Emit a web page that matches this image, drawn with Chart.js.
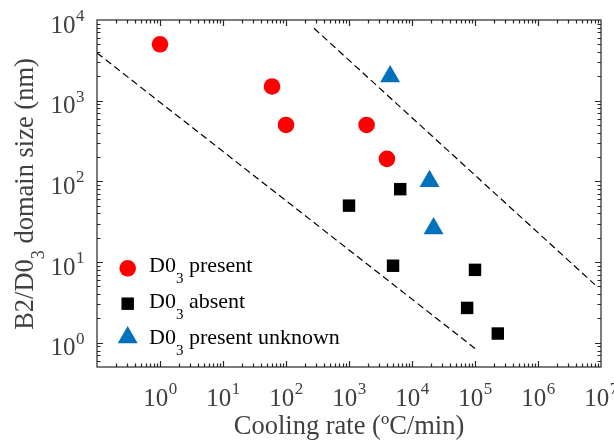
<!DOCTYPE html>
<html>
<head>
<meta charset="utf-8">
<title>B2/D03 domain size vs cooling rate</title>
<script src="https://cdn.jsdelivr.net/npm/chart.js@4.4.1/dist/chart.umd.min.js"></script>
<style>
  html, body { margin: 0; padding: 0; background: #fff; }
  #wrap { width: 614px; height: 443px; position: relative; }
</style>
</head>
<body>
<div id="wrap"><canvas id="myChart"></canvas></div>
<script>
// D0_3 present
const presentX = [1, 60, 100, 1900, 4000];
const presentY = [5000, 1500, 500, 500, 190];
// D0_3 absent
const absentX = [1000, 6500, 5000, 100000, 75000, 230000];
const absentY = [50, 80, 9, 8, 2.7, 1.3];
// D0_3 present unknown
const unknownX = [4500, 19000, 22000];
const unknownY = [2000, 100, 26];
// dashed guide lines (end points)
const lowerLineX = [0.1, 100000];
const lowerLineY = [3900, 0.85];
const upperLineX = [278, 8000000];
const upperLineY = [7900, 5.25];

// axis limits and decade labels
const xRange = [0.1, 1e7];
const yRange = [0.5, 1e4];
const xTickExps = [0, 1, 2, 3, 4, 5, 6, 7];
const yTickExps = [0, 1, 2, 3, 4];

const legendLabels = ['present', 'absent', 'present unknown'];

const serif = '"Liberation Serif", "Times New Roman", serif';
const red = '#ff0000';
const blue = '#0072bd';
const black = '#000000';
const axisColor = '#262626';
const labelColor = '#404040';

function toPoints(xs, ys) {
    return xs.map((x, i) => ({ x: x, y: ys[i] }));
}

// 1..9 x 10^k inside the range, k = decade
function logTicks(range) {
    const out = [];
    const k0 = Math.floor(Math.log10(range[0]));
    const k1 = Math.ceil(Math.log10(range[1]));
    for (let k = k0; k <= k1; k++) {
        for (let j = 1; j <= 9; j++) {
            const v = j * Math.pow(10, k);
            if (v > range[0] * 1.0001 && v < range[1] * 0.9999) out.push({ v: v, major: j === 1 });
        }
    }
    return out;
}

// "10" with a raised exponent
function powWidth(ctx, exp) {
    ctx.font = '25px ' + serif;
    const w1 = ctx.measureText('10').width;
    ctx.font = '17px ' + serif;
    const w2 = ctx.measureText(String(exp)).width;
    return [w1, w2];
}
function drawPow(ctx, left, baseline, exp) {
    const w = powWidth(ctx, exp);
    ctx.font = '25px ' + serif;
    ctx.fillText('10', left, baseline);
    ctx.font = '17px ' + serif;
    ctx.fillText(String(exp), left + w[0] + 0.5, baseline - 11.5);
}

// text pieces: [string, isSubscript]
function drawRich(ctx, parts, x, y, size, subSize, subDrop, align) {
    let total = 0;
    parts.forEach(p => {
        ctx.font = (p[1] ? subSize : size) + 'px ' + serif;
        total += ctx.measureText(p[0]).width;
    });
    let cx = align === 'center' ? x - total / 2 : x;
    parts.forEach(p => {
        ctx.font = (p[1] ? subSize : size) + 'px ' + serif;
        ctx.fillText(p[0], cx, p[1] ? y + subDrop : y);
        cx += ctx.measureText(p[0]).width;
    });
}

function drawMarker(ctx, style, x, y, r, color) {
    ctx.fillStyle = color;
    ctx.beginPath();
    if (style === 'circle') {
        ctx.arc(x, y, r, 0, Math.PI * 2);
    } else if (style === 'rect') {
        const s = r * Math.SQRT1_2;
        ctx.rect(x - s, y - s, 2 * s, 2 * s);
    } else {
        const hw = r * Math.sin(Math.PI / 3);
        ctx.moveTo(x, y - r);
        ctx.lineTo(x + hw, y + r / 2);
        ctx.lineTo(x - hw, y + r / 2);
        ctx.closePath();
    }
    ctx.fill();
}

// box, inward ticks, labels, titles and legend
const axesPlugin = {
    id: 'boxAxes',
    afterDraw(chart) {
        const ctx = chart.ctx;
        const xs = chart.scales.x;
        const ys = chart.scales.y;
        const a = chart.chartArea;
        ctx.save();

        ctx.strokeStyle = axisColor;
        ctx.lineWidth = 1.2;
        ctx.strokeRect(a.left, a.top, a.right - a.left, a.bottom - a.top);

        ctx.beginPath();
        logTicks(xRange).forEach(t => {
            const px = Math.round(xs.getPixelForValue(t.v)) + 0.5;
            const len = t.major ? 6 : 3.5;
            ctx.moveTo(px, a.bottom); ctx.lineTo(px, a.bottom - len);
            ctx.moveTo(px, a.top); ctx.lineTo(px, a.top + len);
        });
        logTicks(yRange).forEach(t => {
            const py = Math.round(ys.getPixelForValue(t.v)) + 0.5;
            const len = t.major ? 6 : 3.5;
            ctx.moveTo(a.left, py); ctx.lineTo(a.left + len, py);
            ctx.moveTo(a.right, py); ctx.lineTo(a.right - len, py);
        });
        ctx.stroke();

        // decade labels
        ctx.fillStyle = labelColor;
        ctx.textAlign = 'left';
        ctx.textBaseline = 'alphabetic';
        xTickExps.forEach(e => {
            const px = xs.getPixelForValue(Math.pow(10, e));
            const w = powWidth(ctx, e);
            drawPow(ctx, px - (w[0] + w[1]) / 2, a.bottom + 38.5, e);
        });
        yTickExps.forEach(e => {
            const py = ys.getPixelForValue(Math.pow(10, e));
            const w = powWidth(ctx, e);
            drawPow(ctx, a.left - 13 - (w[0] + w[1]), py + 12.5, e);
        });

        // axis titles
        drawRich(ctx, [['Cooling rate (ºC/min)', false]], (a.left + a.right) / 2, 434, 26.5, 18, 0, 'center');
        ctx.save();
        ctx.translate(33, 194);
        ctx.rotate(-Math.PI / 2);
        drawRich(ctx, [['B2/D0', false], ['3', true], [' domain size (nm)', false]], 0, 0, 26.5, 18, 10.5, 'center');
        ctx.restore();

        // legend
        const rows = [
            { style: 'circle', r: 8.3, color: red, my: 268.3, base: 271.7 },
            { style: 'rect', r: 8.8, color: black, my: 303.7, base: 308 },
            { style: 'triangle', r: 11.5, color: blue, my: 337.5, base: 344.3 }
        ];
        rows.forEach((row, i) => {
            drawMarker(ctx, row.style, 127.7, row.my, row.r, row.color);
            ctx.fillStyle = black;
            drawRich(ctx, [['D0', false], ['3', true], [' ' + legendLabels[i], false]], 149, row.base, 22, 15, 11, 'left');
        });

        ctx.restore();
    }
};

const ctx = document.getElementById('myChart');
const sizeChart = new Chart(ctx, {
    type: 'scatter',
    data: {
        datasets: [
            {
                label: 'D0_3 present',
                data: toPoints(presentX, presentY),
                pointStyle: 'circle',
                pointRadius: 8.3,
                pointBackgroundColor: red,
                pointBorderWidth: 0
            },
            {
                label: 'D0_3 absent',
                data: toPoints(absentX, absentY),
                pointStyle: 'rect',
                pointRadius: 8.8,
                pointBackgroundColor: black,
                pointBorderWidth: 0
            },
            {
                label: 'D0_3 present unknown',
                data: toPoints(unknownX, unknownY),
                pointStyle: 'triangle',
                pointRadius: 11.5,
                pointBackgroundColor: blue,
                pointBorderWidth: 0
            },
            {
                label: 'lower bound',
                data: toPoints(lowerLineX, lowerLineY),
                showLine: true,
                borderColor: black,
                borderWidth: 1.2,
                borderDash: [7, 4],
                pointRadius: 0
            },
            {
                label: 'upper bound',
                data: toPoints(upperLineX, upperLineY),
                showLine: true,
                borderColor: black,
                borderWidth: 1.2,
                borderDash: [7, 4],
                pointRadius: 0
            }
        ]
    },
    options: {
        responsive: true,
        maintainAspectRatio: false,
        animation: false,
        events: [],
        layout: { padding: { left: 97, top: 20, right: 13, bottom: 76 } },
        plugins: { legend: { display: false }, tooltip: { enabled: false } },
        scales: {
            x: { type: 'logarithmic', min: xRange[0], max: xRange[1], display: false },
            y: { type: 'logarithmic', min: yRange[0], max: yRange[1], display: false }
        }
    },
    plugins: [axesPlugin]
});
</script>
</body>
</html>
